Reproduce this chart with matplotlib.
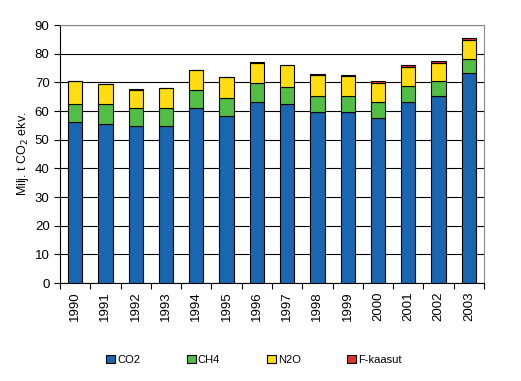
import matplotlib.pyplot as plt
import numpy as np

plt.rcParams['font.family'] = ['Liberation Sans', 'DejaVu Sans']

years = ['1990', '1991', '1992', '1993', '1994', '1995', '1996',
         '1997', '1998', '1999', '2000', '2001', '2002', '2003']
co2 = [56.3, 55.6, 54.6, 54.6, 60.9, 58.1, 63.3, 62.3, 59.8, 59.5, 57.7, 63.3, 65.1, 73.1]
ch4 = [6.3, 6.7, 6.3, 6.3, 6.6, 6.3, 6.3, 5.9, 5.6, 5.6, 5.3, 5.3, 5.2, 4.9]
n2o = [7.7, 7.0, 6.6, 7.0, 6.7, 7.3, 7.3, 7.7, 7.0, 7.0, 6.7, 6.6, 6.6, 6.6]
fgas = [0.3, 0.1, 0.1, 0.1, 0.1, 0.2, 0.2, 0.3, 0.5, 0.4, 0.6, 0.7, 0.4, 0.7]
labels = ['CO2', 'CH4', 'N2O', 'F-kaasut']
colors = ['#1a66b0', '#52be45', '#ffdd11', '#e0302c']

fig = plt.figure(figsize=(5.21, 3.81), dpi=100)
ax = fig.add_axes([60/521, 1 - 283/381, 424/521, 258/381])

x = np.arange(len(years))
bottom = np.zeros(len(years))
handles = []
for vals, col, lab in zip([co2, ch4, n2o, fgas], colors, labels):
    h = ax.bar(x, vals, 0.47, bottom=bottom, color=col, edgecolor='black',
               linewidth=0.8, label=lab, zorder=3)
    bottom += np.array(vals)
    handles.append(h)

ax.set_xlim(-0.5, len(years) - 0.5)
ax.set_ylim(0, 90)
ax.set_yticks(range(0, 91, 10))
ax.yaxis.grid(True, color='black', linewidth=0.8, zorder=0)
ax.set_axisbelow(True)

ax.set_xticks(x)
ax.set_xticklabels(years, rotation=90, fontsize=9.5)
ax.set_xticks(np.arange(-0.5, len(years)), minor=True)
ax.tick_params(axis='x', which='major', length=0, pad=6)
ax.tick_params(axis='x', which='minor', length=4, width=0.8, color='black')
ax.tick_params(axis='y', length=4, width=0.8, labelsize=9.5)

for s in ['top', 'right']:
    ax.spines[s].set_color('#888888')
for s in ['left', 'bottom']:
    ax.spines[s].set_color('black')

ax.set_ylabel('Milj. t CO$_2$ ekv.', fontsize=9, labelpad=3)

fig.legend(handles, labels, loc='center', bbox_to_anchor=(254/521, 1 - 360/381),
           ncol=4, frameon=False, fontsize=8, handlelength=0.8, handleheight=0.8,
           handletextpad=0.2, columnspacing=4.2)

fig.savefig('out.png', dpi=100)
